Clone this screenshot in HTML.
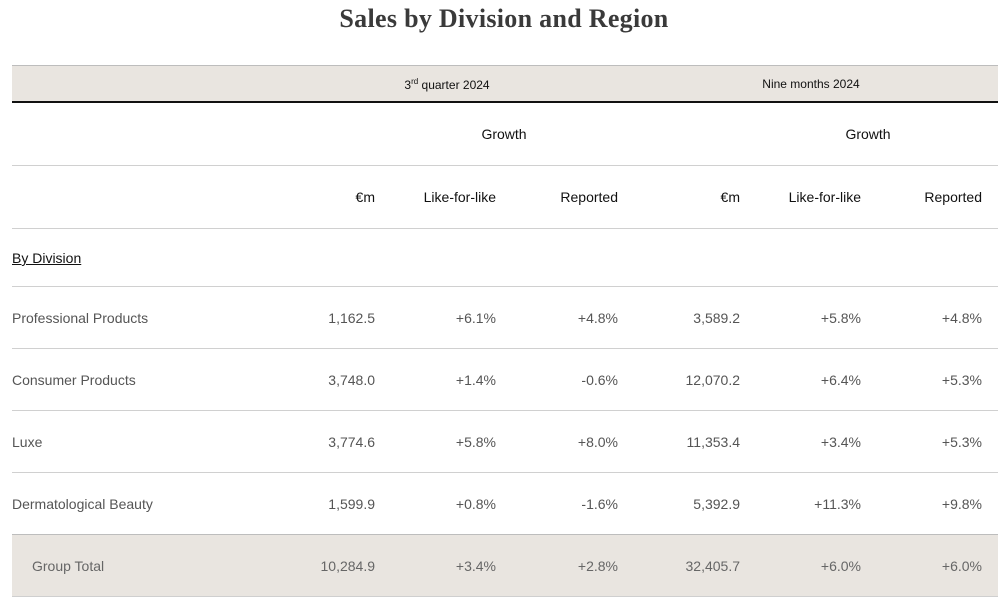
<!DOCTYPE html>
<html><head><meta charset="utf-8"><style>
body{margin:0;width:1008px;height:604px;background:#fff;position:relative;font-family:"Liberation Sans",Arial,sans-serif;overflow:hidden}
.a{position:absolute;white-space:nowrap}
.t{left:0;width:1008px;text-align:center;top:4px;font-family:"Liberation Serif",serif;font-weight:bold;font-size:26px;color:#3a3a3a;letter-spacing:0.3px}
.band{position:absolute;left:12px;width:986px;background:#e9e5e0}
.ln{position:absolute;left:12px;width:986px;height:1px;background:#d0d0d0}
.r{text-align:right;font-size:14px;color:#555}
.h{font-size:14px;color:#111}
.c{text-align:center}
</style></head><body>
<div class="a t">Sales by Division and Region</div>
<div class="band" style="top:65px;height:37px;border-top:1px solid #bdbdbd;box-sizing:border-box"></div>
<div class="a" style="left:12px;width:986px;top:101px;height:2px;background:#111"></div>
<div class="a c" style="left:347px;width:200px;top:77px;font-size:12px;color:#111">3<sup style="font-size:8px">rd</sup> quarter 2024</div>
<div class="a c" style="left:711px;width:200px;top:77px;font-size:12px;color:#111">Nine months 2024</div>
<div class="a h c" style="left:404px;width:200px;top:126px">Growth</div>
<div class="a h c" style="left:768px;width:200px;top:126px">Growth</div>
<div class="ln" style="top:165px"></div>
<div class="a h" style="right:633px;top:189px">€m</div>
<div class="a h" style="right:512px;top:189px">Like-for-like</div>
<div class="a h" style="right:390px;top:189px">Reported</div>
<div class="a h" style="right:268px;top:189px">€m</div>
<div class="a h" style="right:147px;top:189px">Like-for-like</div>
<div class="a h" style="right:26px;top:189px">Reported</div>
<div class="ln" style="top:228px"></div>
<div class="a h" style="left:12px;top:250px;text-decoration:underline">By Division</div>
<div class="ln" style="top:286px"></div>
<div class="ln" style="top:348px"></div>
<div class="ln" style="top:410px"></div>
<div class="ln" style="top:472px"></div>
<div class="band" style="top:534px;height:63px;border-top:1px solid #bdbdbd;border-bottom:1px solid #cfcfcf;box-sizing:border-box"></div>

<div class="a r" style="left:12px;top:310px;text-align:left">Professional Products</div>
<div class="a r" style="right:633px;top:310px">1,162.5</div><div class="a r" style="right:512px;top:310px">+6.1%</div><div class="a r" style="right:390px;top:310px">+4.8%</div><div class="a r" style="right:268px;top:310px">3,589.2</div><div class="a r" style="right:147px;top:310px">+5.8%</div><div class="a r" style="right:26px;top:310px">+4.8%</div>

<div class="a r" style="left:12px;top:372px;text-align:left">Consumer Products</div>
<div class="a r" style="right:633px;top:372px">3,748.0</div><div class="a r" style="right:512px;top:372px">+1.4%</div><div class="a r" style="right:390px;top:372px">-0.6%</div><div class="a r" style="right:268px;top:372px">12,070.2</div><div class="a r" style="right:147px;top:372px">+6.4%</div><div class="a r" style="right:26px;top:372px">+5.3%</div>

<div class="a r" style="left:12px;top:434px;text-align:left">Luxe</div>
<div class="a r" style="right:633px;top:434px">3,774.6</div><div class="a r" style="right:512px;top:434px">+5.8%</div><div class="a r" style="right:390px;top:434px">+8.0%</div><div class="a r" style="right:268px;top:434px">11,353.4</div><div class="a r" style="right:147px;top:434px">+3.4%</div><div class="a r" style="right:26px;top:434px">+5.3%</div>

<div class="a r" style="left:12px;top:496px;text-align:left">Dermatological Beauty</div>
<div class="a r" style="right:633px;top:496px">1,599.9</div><div class="a r" style="right:512px;top:496px">+0.8%</div><div class="a r" style="right:390px;top:496px">-1.6%</div><div class="a r" style="right:268px;top:496px">5,392.9</div><div class="a r" style="right:147px;top:496px">+11.3%</div><div class="a r" style="right:26px;top:496px">+9.8%</div>

<div class="a r" style="left:32px;top:558px;text-align:left;color:#666">Group Total</div>
<div class="a r" style="right:633px;top:558px;color:#666">10,284.9</div><div class="a r" style="right:512px;top:558px;color:#666">+3.4%</div><div class="a r" style="right:390px;top:558px;color:#666">+2.8%</div><div class="a r" style="right:268px;top:558px;color:#666">32,405.7</div><div class="a r" style="right:147px;top:558px;color:#666">+6.0%</div><div class="a r" style="right:26px;top:558px;color:#666">+6.0%</div>
</body></html>
